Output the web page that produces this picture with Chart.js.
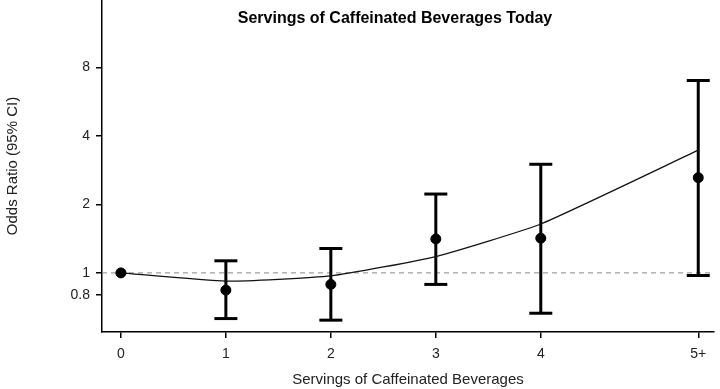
<!DOCTYPE html>
<html>
<head>
<meta charset="utf-8">
<script src="https://cdn.jsdelivr.net/npm/chart.js@4.4.1/dist/chart.umd.min.js"></script>
<style>
  html, body { margin: 0; padding: 0; background: #fff; }
  #wrap { width: 720px; height: 389px; }
</style>
</head>
<body>
<div id="wrap"><canvas id="orChart"></canvas></div>
<script>
const categories = ["0", "1", "2", "3", "4", "5+"];
const xValues = [0, 1, 2, 3, 4, 5.5];
const oddsRatio = [1.0, 0.84, 0.89, 1.41, 1.42, 2.62];
const ciLower = [null, 0.63, 0.62, 0.89, 0.665, 0.974];
const ciUpper = [null, 1.13, 1.28, 2.22, 3.0, 7.0];
const trend = [1.0, 0.92, 0.97, 1.18, 1.64, 3.46];
const yTicks = [0.8, 1, 2, 4, 8];

const xMin = -0.18, xMax = 5.65;
const font = "'Liberation Sans', Arial, sans-serif";

const pointData = xValues.map((x, i) => ({ x: x, y: oddsRatio[i] }));
const trendData = xValues.map((x, i) => ({ x: x, y: trend[i] }));

// error bars: low, high, gap for each category with a CI
const errorData = [];
xValues.forEach((x, i) => {
    if (ciLower[i] === null) return;
    errorData.push({ x: x, y: ciLower[i] });
    errorData.push({ x: x, y: ciUpper[i] });
    errorData.push({ x: x, y: null });
});

const titlePlugin = {
    id: "innerTitle",
    afterDraw(chart) {
        const ctx = chart.ctx;
        const area = chart.chartArea;
        ctx.save();
        ctx.font = "bold 16px " + font;
        ctx.fillStyle = "#000";
        ctx.textAlign = "center";
        ctx.textBaseline = "middle";
        ctx.fillText("Servings of Caffeinated Beverages Today", (area.left + area.right) / 2 - 13, 19);
        ctx.restore();
    }
};

new Chart(document.getElementById("orChart"), {
    type: "line",
    data: {
        datasets: [
            {
                data: pointData,
                showLine: false,
                pointRadius: 5,
                pointBackgroundColor: "#000",
                pointBorderColor: "#000",
                pointBorderWidth: 1
            },
            {
                data: trendData,
                borderColor: "#111",
                borderWidth: 1.3,
                pointRadius: 0,
                tension: 0.15
            },
            {
                data: errorData,
                borderColor: "#000",
                borderWidth: 3,
                pointStyle: "line",
                pointRadius: 11.5,
                pointBorderWidth: 3,
                pointBorderColor: "#000",
                spanGaps: false
            },
            {
                data: [{ x: xMin, y: 1 }, { x: xMax, y: 1 }],
                borderColor: "#888",
                borderWidth: 1,
                borderDash: [5, 4],
                pointRadius: 0
            }
        ]
    },
    options: {
        responsive: true,
        maintainAspectRatio: false,
        animation: false,
        clip: false,
        layout: { autoPadding: false, padding: { top: 0, right: 6, bottom: 0, left: 0 } },
        plugins: {
            legend: { display: false },
            tooltip: { enabled: false }
        },
        scales: {
            x: {
                type: "linear",
                min: xMin,
                max: xMax,
                afterBuildTicks: (scale) => {
                    scale.ticks = xValues.map(v => ({ value: v }));
                },
                afterFit: (scale) => {
                    scale.height = 57;
                    scale.paddingLeft = 0;
                    scale.paddingRight = 0;
                },
                ticks: {
                    padding: 8,
                    color: "#222",
                    font: { family: font, size: 14 },
                    callback: (value) => categories[xValues.indexOf(value)]
                },
                grid: {
                    drawOnChartArea: false,
                    drawTicks: true,
                    tickLength: 6,
                    color: "#000",
                    lineWidth: 1.5
                },
                border: { display: true, color: "#000", width: 1.5 },
                title: {
                    display: true,
                    text: "Servings of Caffeinated Beverages",
                    color: "#222",
                    font: { family: font, size: 15 },
                    padding: { top: 9, bottom: 0 }
                }
            },
            y: {
                type: "logarithmic",
                min: 0.55,
                max: 15.8,
                afterBuildTicks: (scale) => {
                    scale.ticks = yTicks.map(v => ({ value: v }));
                },
                afterFit: (scale) => {
                    scale.width = 102;
                    scale.paddingTop = 0;
                    scale.paddingBottom = 0;
                },
                ticks: {
                    padding: 6,
                    color: "#222",
                    font: { family: font, size: 14 },
                    callback: (value) => String(value)
                },
                grid: {
                    drawOnChartArea: false,
                    drawTicks: true,
                    tickLength: 6,
                    color: "#000",
                    lineWidth: 1.5
                },
                border: { display: true, color: "#000", width: 1.5 },
                title: {
                    display: true,
                    text: "Odds Ratio (95% CI)",
                    color: "#222",
                    font: { family: font, size: 15 },
                    padding: { top: 4, bottom: 4 }
                }
            }
        }
    },
    plugins: [titlePlugin]
});
</script>
</body>
</html>
